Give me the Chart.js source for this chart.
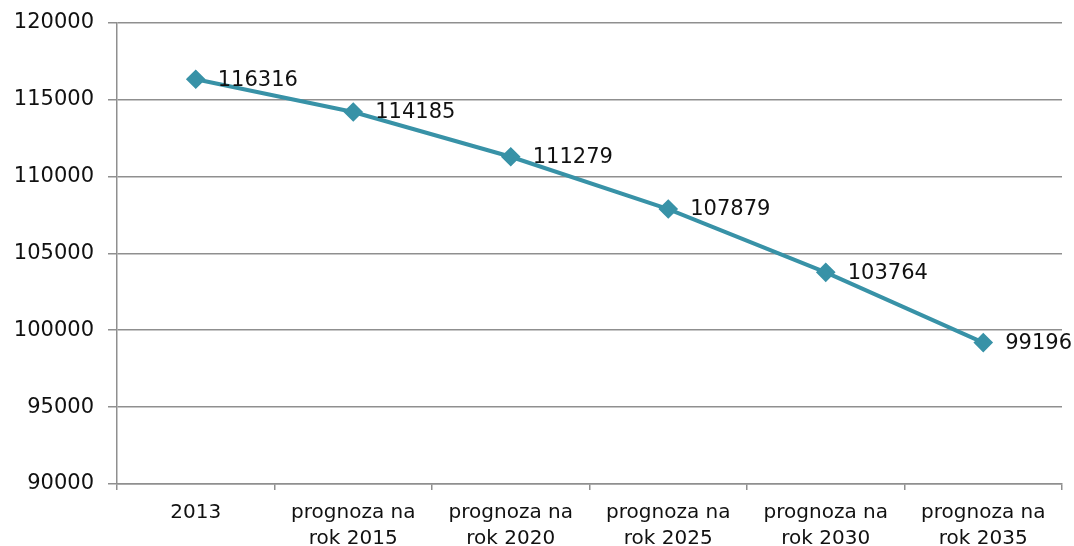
<!DOCTYPE html>
<html>
<head>
<meta charset="utf-8">
<script src="https://cdn.jsdelivr.net/npm/chart.js@4/dist/chart.umd.min.js"></script>
<style>
  html, body { margin: 0; padding: 0; background: #fff; overflow: hidden; }
  #wrap { width: 1074px; height: 570px; position: relative; margin-top: -4px; }
</style>
</head>
<body>
<div id="wrap"><canvas id="chart"></canvas></div>
<script>
const categories = [
  ["2013"],
  ["prognoza na", "rok 2015"],
  ["prognoza na", "rok 2020"],
  ["prognoza na", "rok 2025"],
  ["prognoza na", "rok 2030"],
  ["prognoza na", "rok 2035"]
];
const population = [116316, 114185, 111279, 107879, 103764, 99196];

const yMin = 90000;
const yMax = 120000;
const yStep = 5000;

const lineColor = "#3892a7";
const gridColor = "#8f8f8f";
const textColor = "#111";
const fontFamily = "'DejaVu Sans', sans-serif";

// draws the numbers next to each point
const valueLabels = {
  id: "valueLabels",
  afterDatasetsDraw(chart) {
    const ctx = chart.ctx;
    const meta = chart.getDatasetMeta(0);
    ctx.save();
    ctx.font = "21px " + fontFamily;
    ctx.fillStyle = textColor;
    ctx.textAlign = "left";
    ctx.textBaseline = "middle";
    meta.data.forEach((pt, i) => {
      ctx.fillText(String(population[i]), pt.x + 22, pt.y + 1);
    });
    ctx.restore();
  }
};

new Chart(document.getElementById("chart"), {
  type: "line",
  data: {
    labels: categories,
    datasets: [{
      data: population,
      borderColor: lineColor,
      backgroundColor: lineColor,
      borderWidth: 4,
      pointStyle: "rectRot",
      pointRadius: 7,
      pointHoverRadius: 7,
      tension: 0,
      fill: false
    }]
  },
  options: {
    responsive: true,
    maintainAspectRatio: false,
    animation: false,
    layout: { padding: { top: 14, right: 12, left: 0, bottom: 0 } },
    plugins: {
      legend: { display: false },
      tooltip: { enabled: false }
    },
    scales: {
      x: {
        offset: true,
        grid: {
          display: true,
          offset: true,
          drawOnChartArea: false,
          drawTicks: true,
          tickLength: 6,
          color: gridColor,
          lineWidth: 1.5
        },
        border: { display: true, color: gridColor, width: 1.5 },
        ticks: {
          color: textColor,
          font: { family: fontFamily, size: 20, lineHeight: 1.3 },
          padding: 10,
          maxRotation: 0,
          autoSkip: false
        },
        afterFit(scale) { scale.height = 82; }
      },
      y: {
        min: yMin,
        max: yMax,
        ticks: {
          stepSize: yStep,
          color: textColor,
          font: { family: fontFamily, size: 21 },
          padding: 14,
          callback: v => String(v)
        },
        grid: {
          color: gridColor,
          lineWidth: 1.5,
          tickLength: 9
        },
        border: { display: true, color: gridColor, width: 1.5 },
        afterFit(scale) { scale.width = 117; }
      }
    }
  },
  plugins: [valueLabels]
});
</script>
</body>
</html>
